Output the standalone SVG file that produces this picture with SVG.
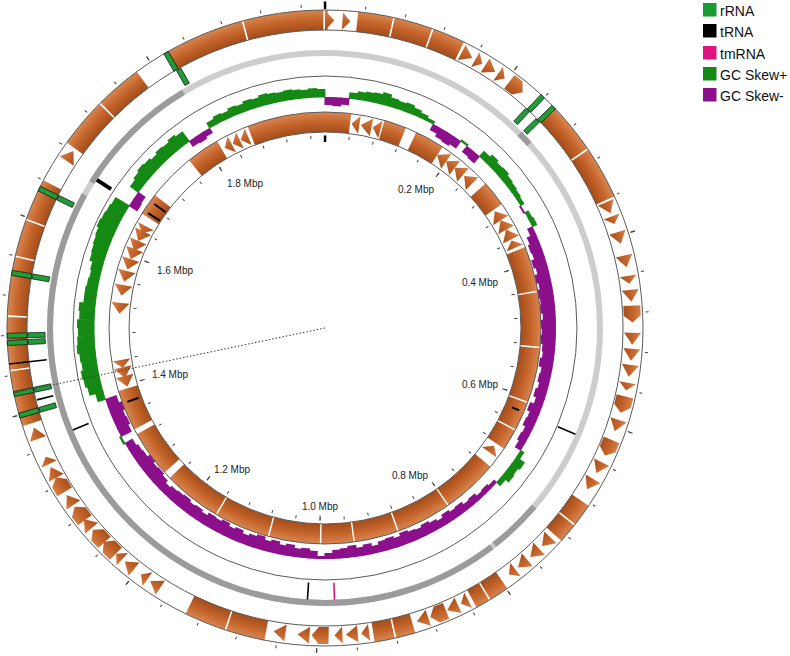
<svg xmlns="http://www.w3.org/2000/svg" xmlns:xlink="http://www.w3.org/1999/xlink" width="790" height="656" viewBox="0 0 790 656">
<style>
.bd{fill:none;stroke:#5a5a5a;stroke-width:1}
.gp rect{fill:#148a14}
.gm rect{fill:#8c0f8c}
.rr{fill:#1f9e38;stroke:#111;stroke-width:0.7}
.tr{fill:#000}
.lbl{font-family:"Liberation Sans",Arial,sans-serif;font-size:10px;fill:#222;text-anchor:middle}
.lg{font-family:"Liberation Sans",Arial,sans-serif;font-size:14px;fill:#111}
</style>
<defs>
<radialGradient id="go" gradientUnits="userSpaceOnUse" cx="325" cy="328" r="318">
<stop offset="0.937" stop-color="#a44d1b"/><stop offset="0.97" stop-color="#c4642b"/><stop offset="1" stop-color="#d98650"/>
</radialGradient>
<radialGradient id="gi" gradientUnits="userSpaceOnUse" cx="325" cy="328" r="216">
<stop offset="0.907" stop-color="#a44d1b"/><stop offset="0.955" stop-color="#c4642b"/><stop offset="1" stop-color="#d98650"/>
</radialGradient>
<polygon id="a1" points="321,12 321,29 329,20.5" fill="url(#go)"/>
<polygon id="a2" points="319,12 319,29 331,20.5" fill="url(#go)"/>
<polygon id="a3" points="316,12 326,12 333,20.5 326,29 316,29" fill="url(#go)"/>
<polygon id="c1" points="329,113 329,131 321,122" fill="url(#gi)"/>
<polygon id="c2" points="330.5,113 330.5,131 319.5,122" fill="url(#gi)"/>
<rect id="ro" class="rr" x="322.5" y="10" width="5" height="20"/>
<rect id="rm" class="rr" x="322.5" y="31" width="5" height="17"/>
</defs>
<rect width="790" height="656" fill="#fff"/>

<g id="outer-cds">
<circle cx="325" cy="328" r="308" fill="none" stroke="url(#go)" stroke-width="20" pathLength="360" transform="rotate(-90 325 328)" stroke-dasharray="0.5 5.5 6.4 0.3 7 0.3 5.9 20.1 9.6 0.3 9.6 58.5 4.1 0.3 3.6 13 3.6 0.3 2.6 12 3.5 0.3 3.7 20 7.1 0.3 7.6 46 10.1 0.3 9.6 0.3 10.6 0.3 6.6 0.3 7.6 8 9.1 0.3 8.6 6.5 14.6 0.3 14.6 1"/>
<use href="#a1" transform="rotate(1 325 328)"/><use href="#a1" transform="rotate(4 325 328)"/>
<use href="#a2" transform="rotate(27.5 325 328)"/><use href="#a1" transform="rotate(30 325 328)"/>
<use href="#a2" transform="rotate(32.5 325 328)"/><use href="#a1" transform="rotate(35 325 328)"/>
<use href="#a3" transform="rotate(38.5 325 328)"/>
<use href="#a2" transform="rotate(67 325 328)"/><use href="#a1" transform="rotate(69.5 325 328)"/>
<use href="#a2" transform="rotate(73 325 328)"/><use href="#a2" transform="rotate(77.5 325 328)"/>
<use href="#a1" transform="rotate(81 325 328)"/><use href="#a2" transform="rotate(84 325 328)"/>
<use href="#a3" transform="rotate(87.5 325 328)"/><use href="#a2" transform="rotate(92 325 328)"/>
<use href="#a2" transform="rotate(95 325 328)"/><use href="#a2" transform="rotate(98 325 328)"/>
<use href="#a1" transform="rotate(101 325 328)"/><use href="#a3" transform="rotate(104.5 325 328)"/>
<use href="#a2" transform="rotate(108.5 325 328)"/><use href="#a3" transform="rotate(113 325 328)"/>
<use href="#a2" transform="rotate(117 325 328)"/><use href="#a2" transform="rotate(120.5 325 328)"/>
<use href="#a2" transform="rotate(134 325 328)"/><use href="#a2" transform="rotate(137 325 328)"/>
<use href="#a2" transform="rotate(140 325 328)"/><use href="#a1" transform="rotate(142.5 325 328)"/>
<use href="#a1" transform="rotate(153 325 328)"/><use href="#a2" transform="rotate(155.5 325 328)"/>
<use href="#a3" transform="rotate(158.5 325 328)"/><use href="#a2" transform="rotate(161.5 325 328)"/>
<use href="#a1" transform="rotate(172.5 325 328)"/><use href="#a2" transform="rotate(175 325 328)"/>
<use href="#a1" transform="rotate(177.5 325 328)"/><use href="#a3" transform="rotate(181 325 328)"/>
<use href="#a2" transform="rotate(184 325 328)"/><use href="#a2" transform="rotate(188.5 325 328)"/>
<use href="#a2" transform="rotate(213.5 325 328)"/><use href="#a1" transform="rotate(216 325 328)"/>
<use href="#a2" transform="rotate(219.5 325 328)"/><use href="#a1" transform="rotate(222 325 328)"/>
<use href="#a3" transform="rotate(224.5 325 328)"/><use href="#a3" transform="rotate(227.5 325 328)"/>
<use href="#a2" transform="rotate(230.5 325 328)"/><use href="#a3" transform="rotate(233 325 328)"/>
<use href="#a2" transform="rotate(236 325 328)"/><use href="#a3" transform="rotate(239.5 325 328)"/>
<use href="#a2" transform="rotate(242 325 328)"/><use href="#a1" transform="rotate(244.5 325 328)"/>
<use href="#a2" transform="rotate(250 325 328)"/><use href="#a2" transform="rotate(304 325 328)"/>
</g>

<g id="backbone">
<circle cx="325" cy="328" r="275" fill="none" stroke="#cdcdcd" stroke-width="6"/>
<circle cx="325" cy="328" r="275" fill="none" stroke="#9b9b9b" stroke-width="6" pathLength="360" transform="rotate(-90 325 328)" stroke-dasharray="0 45 3 82.5 11.5 0.7 156.3 3 27 31"/>
</g>

<g id="gc-skew">
<g class="gp">
<rect x="320.5" y="91" width="9" height="6.5" transform="rotate(7 325 328)"/>
<rect x="320.5" y="89" width="9" height="8.5" transform="rotate(9 325 328)"/>
<rect x="320.5" y="88" width="9" height="9.5" transform="rotate(11 325 328)"/>
<rect x="320.5" y="87" width="9" height="10.5" transform="rotate(13 325 328)"/>
<rect x="320.5" y="85" width="9" height="12.5" transform="rotate(15 325 328)"/>
<rect x="320.5" y="88" width="9" height="9.5" transform="rotate(17 325 328)"/>
<rect x="320.5" y="89" width="9" height="8.5" transform="rotate(19 325 328)"/>
<rect x="320.5" y="88" width="9" height="9.5" transform="rotate(21 325 328)"/>
<rect x="320.5" y="90" width="9" height="7.5" transform="rotate(23 325 328)"/>
<rect x="320.5" y="92" width="9" height="5.5" transform="rotate(25 325 328)"/>
<rect x="320.5" y="94" width="9" height="3.5" transform="rotate(27 325 328)"/>
<rect x="320.5" y="95" width="9" height="2.5" transform="rotate(37 325 328)"/>
<rect x="320.5" y="90" width="9" height="7.5" transform="rotate(43 325 328)"/>
<rect x="320.5" y="87" width="9" height="10.5" transform="rotate(45 325 328)"/>
<rect x="320.5" y="89" width="9" height="8.5" transform="rotate(47 325 328)"/>
<rect x="320.5" y="88" width="9" height="9.5" transform="rotate(49 325 328)"/>
<rect x="320.5" y="90" width="9" height="7.5" transform="rotate(51 325 328)"/>
<rect x="320.5" y="91" width="9" height="6.5" transform="rotate(53 325 328)"/>
<rect x="320.5" y="92" width="9" height="5.5" transform="rotate(55 325 328)"/>
<rect x="320.5" y="93" width="9" height="4.5" transform="rotate(57 325 328)"/>
<rect x="320.5" y="93" width="9" height="4.5" transform="rotate(61 325 328)"/>
<rect x="320.5" y="92" width="9" height="5.5" transform="rotate(63 325 328)"/>
<rect x="320.5" y="93" width="9" height="4.5" transform="rotate(123 325 328)"/>
<rect x="320.5" y="87" width="9" height="10.5" transform="rotate(125 325 328)"/>
<rect x="320.5" y="89" width="9" height="8.5" transform="rotate(127 325 328)"/>
<rect x="320.5" y="88" width="9" height="9.5" transform="rotate(129 325 328)"/>
<rect x="320.5" y="92" width="9" height="5.5" transform="rotate(131 325 328)"/>
<rect x="320.5" y="95" width="9" height="2.5" transform="rotate(241 325 328)"/>
<rect x="320.5" y="89" width="9" height="8.5" transform="rotate(253 325 328)"/>
<rect x="320.5" y="83" width="9" height="14.5" transform="rotate(255 325 328)"/>
<rect x="320.5" y="81" width="9" height="16.5" transform="rotate(257 325 328)"/>
<rect x="320.5" y="80" width="9" height="17.5" transform="rotate(259 325 328)"/>
<rect x="320.5" y="82" width="9" height="15.5" transform="rotate(261 325 328)"/>
<rect x="320.5" y="81" width="9" height="16.5" transform="rotate(263 325 328)"/>
<rect x="320.5" y="79" width="9" height="18.5" transform="rotate(265 325 328)"/>
<rect x="320.5" y="80" width="9" height="17.5" transform="rotate(267 325 328)"/>
<rect x="320.5" y="81" width="9" height="16.5" transform="rotate(269 325 328)"/>
<rect x="320.5" y="80" width="9" height="17.5" transform="rotate(271 325 328)"/>
<rect x="320.5" y="82" width="9" height="15.5" transform="rotate(273 325 328)"/>
<rect x="320.5" y="81" width="9" height="16.5" transform="rotate(275 325 328)"/>
<rect x="320.5" y="85" width="9" height="12.5" transform="rotate(277 325 328)"/>
<rect x="320.5" y="85" width="9" height="12.5" transform="rotate(279 325 328)"/>
<rect x="320.5" y="86" width="9" height="11.5" transform="rotate(281 325 328)"/>
<rect x="320.5" y="87" width="9" height="10.5" transform="rotate(283 325 328)"/>
<rect x="320.5" y="86" width="9" height="11.5" transform="rotate(285 325 328)"/>
<rect x="320.5" y="83" width="9" height="14.5" transform="rotate(287 325 328)"/>
<rect x="320.5" y="82" width="9" height="15.5" transform="rotate(289 325 328)"/>
<rect x="320.5" y="81" width="9" height="16.5" transform="rotate(291 325 328)"/>
<rect x="320.5" y="80" width="9" height="17.5" transform="rotate(293 325 328)"/>
<rect x="320.5" y="78" width="9" height="19.5" transform="rotate(295 325 328)"/>
<rect x="320.5" y="79" width="9" height="18.5" transform="rotate(297 325 328)"/>
<rect x="320.5" y="80" width="9" height="17.5" transform="rotate(299 325 328)"/>
<rect x="320.5" y="81" width="9" height="16.5" transform="rotate(301 325 328)"/>
<rect x="320.5" y="87" width="9" height="10.5" transform="rotate(307 325 328)"/>
<rect x="320.5" y="85" width="9" height="12.5" transform="rotate(309 325 328)"/>
<rect x="320.5" y="83" width="9" height="14.5" transform="rotate(311 325 328)"/>
<rect x="320.5" y="84" width="9" height="13.5" transform="rotate(313 325 328)"/>
<rect x="320.5" y="86" width="9" height="11.5" transform="rotate(315 325 328)"/>
<rect x="320.5" y="84" width="9" height="13.5" transform="rotate(317 325 328)"/>
<rect x="320.5" y="85" width="9" height="12.5" transform="rotate(319 325 328)"/>
<rect x="320.5" y="83" width="9" height="14.5" transform="rotate(321 325 328)"/>
<rect x="320.5" y="85" width="9" height="12.5" transform="rotate(323 325 328)"/>
<rect x="320.5" y="91" width="9" height="6.5" transform="rotate(331 325 328)"/>
<rect x="320.5" y="89" width="9" height="8.5" transform="rotate(333 325 328)"/>
<rect x="320.5" y="90" width="9" height="7.5" transform="rotate(335 325 328)"/>
<rect x="320.5" y="88" width="9" height="9.5" transform="rotate(337 325 328)"/>
<rect x="320.5" y="89" width="9" height="8.5" transform="rotate(339 325 328)"/>
<rect x="320.5" y="87" width="9" height="10.5" transform="rotate(341 325 328)"/>
<rect x="320.5" y="88" width="9" height="9.5" transform="rotate(343 325 328)"/>
<rect x="320.5" y="86" width="9" height="11.5" transform="rotate(345 325 328)"/>
<rect x="320.5" y="87" width="9" height="10.5" transform="rotate(347 325 328)"/>
<rect x="320.5" y="88" width="9" height="9.5" transform="rotate(349 325 328)"/>
<rect x="320.5" y="87" width="9" height="10.5" transform="rotate(351 325 328)"/>
<rect x="320.5" y="88" width="9" height="9.5" transform="rotate(353 325 328)"/>
<rect x="320.5" y="89" width="9" height="8.5" transform="rotate(355 325 328)"/>
<rect x="320.5" y="88" width="9" height="9.5" transform="rotate(357 325 328)"/>
<rect x="320.5" y="89" width="9" height="8.5" transform="rotate(359 325 328)"/>
</g>
<g class="gm">
<rect x="320.5" y="97" width="9" height="8" transform="rotate(1 325 328)"/>
<rect x="320.5" y="97" width="9" height="9" transform="rotate(3 325 328)"/>
<rect x="320.5" y="97" width="9" height="7" transform="rotate(5 325 328)"/>
<rect x="320.5" y="97" width="9" height="7" transform="rotate(29 325 328)"/>
<rect x="320.5" y="97" width="9" height="10" transform="rotate(31 325 328)"/>
<rect x="320.5" y="97" width="9" height="11" transform="rotate(33 325 328)"/>
<rect x="320.5" y="97" width="9" height="9" transform="rotate(35 325 328)"/>
<rect x="320.5" y="97" width="9" height="8" transform="rotate(39 325 328)"/>
<rect x="320.5" y="97" width="9" height="9" transform="rotate(41 325 328)"/>
<rect x="320.5" y="97" width="9" height="2" transform="rotate(59 325 328)"/>
<rect x="320.5" y="97" width="9" height="6" transform="rotate(65 325 328)"/>
<rect x="320.5" y="97" width="9" height="10" transform="rotate(67 325 328)"/>
<rect x="320.5" y="97" width="9" height="12" transform="rotate(69 325 328)"/>
<rect x="320.5" y="97" width="9" height="11" transform="rotate(71 325 328)"/>
<rect x="320.5" y="97" width="9" height="14" transform="rotate(73 325 328)"/>
<rect x="320.5" y="97" width="9" height="12" transform="rotate(75 325 328)"/>
<rect x="320.5" y="97" width="9" height="15" transform="rotate(77 325 328)"/>
<rect x="320.5" y="97" width="9" height="13" transform="rotate(79 325 328)"/>
<rect x="320.5" y="97" width="9" height="16" transform="rotate(81 325 328)"/>
<rect x="320.5" y="97" width="9" height="14" transform="rotate(83 325 328)"/>
<rect x="320.5" y="97" width="9" height="15" transform="rotate(85 325 328)"/>
<rect x="320.5" y="97" width="9" height="13" transform="rotate(87 325 328)"/>
<rect x="320.5" y="97" width="9" height="16" transform="rotate(89 325 328)"/>
<rect x="320.5" y="97" width="9" height="14" transform="rotate(91 325 328)"/>
<rect x="320.5" y="97" width="9" height="15" transform="rotate(93 325 328)"/>
<rect x="320.5" y="97" width="9" height="13" transform="rotate(95 325 328)"/>
<rect x="320.5" y="97" width="9" height="12" transform="rotate(97 325 328)"/>
<rect x="320.5" y="97" width="9" height="14" transform="rotate(99 325 328)"/>
<rect x="320.5" y="97" width="9" height="11" transform="rotate(101 325 328)"/>
<rect x="320.5" y="97" width="9" height="12" transform="rotate(103 325 328)"/>
<rect x="320.5" y="97" width="9" height="10" transform="rotate(105 325 328)"/>
<rect x="320.5" y="97" width="9" height="12" transform="rotate(107 325 328)"/>
<rect x="320.5" y="97" width="9" height="9" transform="rotate(109 325 328)"/>
<rect x="320.5" y="97" width="9" height="13" transform="rotate(111 325 328)"/>
<rect x="320.5" y="97" width="9" height="10" transform="rotate(113 325 328)"/>
<rect x="320.5" y="97" width="9" height="11" transform="rotate(115 325 328)"/>
<rect x="320.5" y="97" width="9" height="8" transform="rotate(117 325 328)"/>
<rect x="320.5" y="97" width="9" height="9" transform="rotate(119 325 328)"/>
<rect x="320.5" y="97" width="9" height="7" transform="rotate(121 325 328)"/>
<rect x="320.5" y="97" width="9" height="4" transform="rotate(133 325 328)"/>
<rect x="320.5" y="97" width="9" height="6" transform="rotate(135 325 328)"/>
<rect x="320.5" y="97" width="9" height="5" transform="rotate(137 325 328)"/>
<rect x="320.5" y="97" width="9" height="8" transform="rotate(139 325 328)"/>
<rect x="320.5" y="97" width="9" height="7" transform="rotate(141 325 328)"/>
<rect x="320.5" y="97" width="9" height="10" transform="rotate(143 325 328)"/>
<rect x="320.5" y="97" width="9" height="9" transform="rotate(145 325 328)"/>
<rect x="320.5" y="97" width="9" height="11" transform="rotate(147 325 328)"/>
<rect x="320.5" y="97" width="9" height="8" transform="rotate(149 325 328)"/>
<rect x="320.5" y="97" width="9" height="10" transform="rotate(151 325 328)"/>
<rect x="320.5" y="97" width="9" height="12" transform="rotate(153 325 328)"/>
<rect x="320.5" y="97" width="9" height="10" transform="rotate(155 325 328)"/>
<rect x="320.5" y="97" width="9" height="11" transform="rotate(157 325 328)"/>
<rect x="320.5" y="97" width="9" height="13" transform="rotate(159 325 328)"/>
<rect x="320.5" y="97" width="9" height="10" transform="rotate(161 325 328)"/>
<rect x="320.5" y="97" width="9" height="12" transform="rotate(163 325 328)"/>
<rect x="320.5" y="97" width="9" height="11" transform="rotate(165 325 328)"/>
<rect x="320.5" y="97" width="9" height="8" transform="rotate(167 325 328)"/>
<rect x="320.5" y="97" width="9" height="11" transform="rotate(169 325 328)"/>
<rect x="320.5" y="97" width="9" height="9" transform="rotate(171 325 328)"/>
<rect x="320.5" y="97" width="9" height="12" transform="rotate(173 325 328)"/>
<rect x="320.5" y="97" width="9" height="10" transform="rotate(175 325 328)"/>
<rect x="320.5" y="97" width="9" height="9" transform="rotate(177 325 328)"/>
<rect x="320.5" y="97" width="9" height="6" transform="rotate(179 325 328)"/>
<rect x="320.5" y="97" width="9" height="3" transform="rotate(181 325 328)"/>
<rect x="320.5" y="97" width="9" height="8" transform="rotate(183 325 328)"/>
<rect x="320.5" y="97" width="9" height="10" transform="rotate(185 325 328)"/>
<rect x="320.5" y="97" width="9" height="9" transform="rotate(187 325 328)"/>
<rect x="320.5" y="97" width="9" height="12" transform="rotate(189 325 328)"/>
<rect x="320.5" y="97" width="9" height="10" transform="rotate(191 325 328)"/>
<rect x="320.5" y="97" width="9" height="13" transform="rotate(193 325 328)"/>
<rect x="320.5" y="97" width="9" height="11" transform="rotate(195 325 328)"/>
<rect x="320.5" y="97" width="9" height="14" transform="rotate(197 325 328)"/>
<rect x="320.5" y="97" width="9" height="12" transform="rotate(199 325 328)"/>
<rect x="320.5" y="97" width="9" height="10" transform="rotate(201 325 328)"/>
<rect x="320.5" y="97" width="9" height="13" transform="rotate(203 325 328)"/>
<rect x="320.5" y="97" width="9" height="11" transform="rotate(205 325 328)"/>
<rect x="320.5" y="97" width="9" height="14" transform="rotate(207 325 328)"/>
<rect x="320.5" y="97" width="9" height="12" transform="rotate(209 325 328)"/>
<rect x="320.5" y="97" width="9" height="13" transform="rotate(211 325 328)"/>
<rect x="320.5" y="97" width="9" height="10" transform="rotate(213 325 328)"/>
<rect x="320.5" y="97" width="9" height="12" transform="rotate(215 325 328)"/>
<rect x="320.5" y="97" width="9" height="11" transform="rotate(217 325 328)"/>
<rect x="320.5" y="97" width="9" height="13" transform="rotate(219 325 328)"/>
<rect x="320.5" y="97" width="9" height="12" transform="rotate(221 325 328)"/>
<rect x="320.5" y="97" width="9" height="11" transform="rotate(223 325 328)"/>
<rect x="320.5" y="97" width="9" height="9" transform="rotate(225 325 328)"/>
<rect x="320.5" y="97" width="9" height="12" transform="rotate(227 325 328)"/>
<rect x="320.5" y="97" width="9" height="14" transform="rotate(229 325 328)"/>
<rect x="320.5" y="97" width="9" height="13" transform="rotate(231 325 328)"/>
<rect x="320.5" y="97" width="9" height="15" transform="rotate(233 325 328)"/>
<rect x="320.5" y="97" width="9" height="12" transform="rotate(235 325 328)"/>
<rect x="320.5" y="97" width="9" height="11" transform="rotate(237 325 328)"/>
<rect x="320.5" y="97" width="9" height="9" transform="rotate(239 325 328)"/>
<rect x="320.5" y="97" width="9" height="12" transform="rotate(243 325 328)"/>
<rect x="320.5" y="97" width="9" height="14" transform="rotate(245 325 328)"/>
<rect x="320.5" y="97" width="9" height="13" transform="rotate(247 325 328)"/>
<rect x="320.5" y="97" width="9" height="15" transform="rotate(249 325 328)"/>
<rect x="320.5" y="97" width="9" height="12" transform="rotate(251 325 328)"/>
<rect x="320.5" y="97" width="9" height="10" transform="rotate(303 325 328)"/>
<rect x="320.5" y="97" width="9" height="9" transform="rotate(305 325 328)"/>
<rect x="320.5" y="97" width="9" height="7" transform="rotate(325 325 328)"/>
<rect x="320.5" y="97" width="9" height="8" transform="rotate(327 325 328)"/>
<rect x="320.5" y="97" width="9" height="6" transform="rotate(329 325 328)"/>
</g>
</g>

<g id="inner-cds">
<circle cx="325" cy="328" r="206" fill="none" stroke="url(#gi)" stroke-width="20" pathLength="360" transform="rotate(-90 325 328)" stroke-dasharray="7 9 6 3 8 15 7 13 12 0.4 14.6 0.4 14.6 0.4 7.6 0.4 5.6 6 15 0.4 14.6 0.4 11.6 0.4 8.6 0.4 13.6 0.4 14.6 0.4 15.6 2 12.5 1.5 11 49 6 13 9 9 21 0"/>
<use href="#c1" transform="rotate(8.5 325 328)"/><use href="#c2" transform="rotate(11.5 325 328)"/>
<use href="#c1" transform="rotate(14.5 325 328)"/><use href="#c2" transform="rotate(34.5 325 328)"/>
<use href="#c2" transform="rotate(37.5 325 328)"/><use href="#c2" transform="rotate(40.5 325 328)"/>
<use href="#c2" transform="rotate(44 325 328)"/><use href="#c2" transform="rotate(57 325 328)"/>
<use href="#c2" transform="rotate(60 325 328)"/><use href="#c2" transform="rotate(63 325 328)"/>
<use href="#c1" transform="rotate(66 325 328)"/><use href="#c1" transform="rotate(126 325 328)"/>
<use href="#c2" transform="rotate(255 325 328)"/><use href="#c2" transform="rotate(257.5 325 328)"/>
<use href="#c1" transform="rotate(260 325 328)"/><use href="#c2" transform="rotate(275.5 325 328)"/>
<use href="#c2" transform="rotate(280.5 325 328)"/><use href="#c2" transform="rotate(284.5 325 328)"/>
<use href="#c2" transform="rotate(288 325 328)"/><use href="#c2" transform="rotate(291 325 328)"/>
<use href="#c2" transform="rotate(293.5 325 328)"/><use href="#c2" transform="rotate(296.5 325 328)"/>
<use href="#c1" transform="rotate(298.5 325 328)"/><use href="#c1" transform="rotate(332 325 328)"/>
<use href="#c1" transform="rotate(334.5 325 328)"/><use href="#c1" transform="rotate(337 325 328)"/>
<g class="tr">
<rect x="324" y="117" width="2" height="14" transform="rotate(303 325 328)"/>
<rect x="324" y="117" width="2" height="14" transform="rotate(306 325 328)"/>
<rect x="324" y="117" width="2" height="12" transform="rotate(249.5 325 328)"/>
<rect x="324" y="117" width="2" height="8" transform="rotate(113 325 328)"/>
</g>
</g>

<g id="borders">
<circle class="bd" cx="325" cy="328" r="318"/>
<circle class="bd" cx="325" cy="328" r="298"/>
<circle class="bd" cx="325" cy="328" r="252"/>
<circle class="bd" cx="325" cy="328" r="216"/>
<circle class="bd" cx="325" cy="328" r="196"/>
</g>

<g id="rna-features">
<use href="#ro" transform="rotate(330 325 328)"/><use href="#rm" transform="rotate(330.5 325 328)"/>
<use href="#ro" transform="rotate(43.2 325 328)"/><use href="#rm" transform="rotate(42.9 325 328)"/>
<use href="#ro" transform="rotate(46 325 328)"/><use href="#rm" transform="rotate(45.7 325 328)"/>
<use href="#ro" transform="rotate(296 325 328)"/><use href="#rm" transform="rotate(296 325 328)"/>
<use href="#ro" transform="rotate(280 325 328)"/><use href="#rm" transform="rotate(280 325 328)"/>
<use href="#ro" transform="rotate(267.3 325 328)"/><use href="#rm" transform="rotate(267.3 325 328)"/>
<use href="#ro" transform="rotate(268.6 325 328)"/><use href="#rm" transform="rotate(268.6 325 328)"/>
<use href="#ro" transform="rotate(258 325 328)"/><use href="#rm" transform="rotate(258 325 328)"/>
<use href="#ro" transform="rotate(254 325 328)"/><use href="#rm" transform="rotate(254 325 328)"/>
<g class="tr">
<rect x="324.2" y="10" width="1.6" height="38" transform="rotate(263.5 325 328)"/>
<rect x="324.2" y="31" width="1.6" height="17" transform="rotate(256 325 328)"/>
<rect x="323" y="56" width="4" height="17" transform="rotate(303 325 328)"/>
<rect x="324.2" y="56" width="1.6" height="17" transform="rotate(248 325 328)"/>
<rect x="324.2" y="56" width="1.6" height="17" transform="rotate(183.7 325 328)"/>
<rect x="324.2" y="56" width="1.6" height="19" transform="rotate(113 325 328)"/>
</g>
<rect x="324.2" y="56" width="1.6" height="17" fill="#e0147e" transform="rotate(178 325 328)"/>
</g>

<g id="ticks">
<circle cx="325" cy="328" r="322.5" fill="none" stroke="#444" stroke-width="3" pathLength="360" transform="rotate(-90 325 328)" stroke-dasharray="0.18 7.08" stroke-dashoffset="0.09"/>
<circle cx="325" cy="328" r="322.5" fill="none" stroke="#444" stroke-width="5" pathLength="360" transform="rotate(-90 325 328)" stroke-dasharray="0.2 36.1" stroke-dashoffset="0.1"/>
<circle cx="325" cy="328" r="191" fill="none" stroke="#444" stroke-width="3" pathLength="360" transform="rotate(-90 325 328)" stroke-dasharray="0.3 6.96" stroke-dashoffset="0.15"/>
<circle cx="325" cy="328" r="190" fill="none" stroke="#444" stroke-width="5" pathLength="360" transform="rotate(-90 325 328)" stroke-dasharray="0.3 36" stroke-dashoffset="0.15"/>
<rect x="323.8" y="1.5" width="2.5" height="7.5" fill="#000"/>
<rect x="323.8" y="135.5" width="2.5" height="6.5" fill="#000"/>
</g>

<line x1="325" y1="328" x2="14" y2="393" stroke="#333" stroke-width="1" stroke-dasharray="1.5 2"/>

<g id="scale-labels">
<text class="lbl" x="416" y="193">0.2 Mbp</text>
<text class="lbl" x="480" y="286">0.4 Mbp</text>
<text class="lbl" x="480" y="388">0.6 Mbp</text>
<text class="lbl" x="410" y="479">0.8 Mbp</text>
<text class="lbl" x="320" y="510">1.0 Mbp</text>
<text class="lbl" x="232" y="473">1.2 Mbp</text>
<text class="lbl" x="170" y="378">1.4 Mbp</text>
<text class="lbl" x="175" y="274">1.6 Mbp</text>
<text class="lbl" x="245" y="187">1.8 Mbp</text>
</g>

<g id="legend">
<rect x="703" y="3" width="13.5" height="13.5" fill="#1a9a30"/>
<text class="lg" x="720" y="16">rRNA</text>
<rect x="703" y="24" width="13.5" height="13.5" fill="#000"/>
<text class="lg" x="720" y="37">tRNA</text>
<rect x="703" y="46" width="13.5" height="13.5" fill="#e0147e"/>
<text class="lg" x="720" y="59">tmRNA</text>
<rect x="703" y="67" width="13.5" height="13.5" fill="#148a14"/>
<text class="lg" x="720" y="80">GC Skew+</text>
<rect x="703" y="88" width="13.5" height="13.5" fill="#8c0f8c"/>
<text class="lg" x="720" y="101">GC Skew-</text>
</g>
</svg>
